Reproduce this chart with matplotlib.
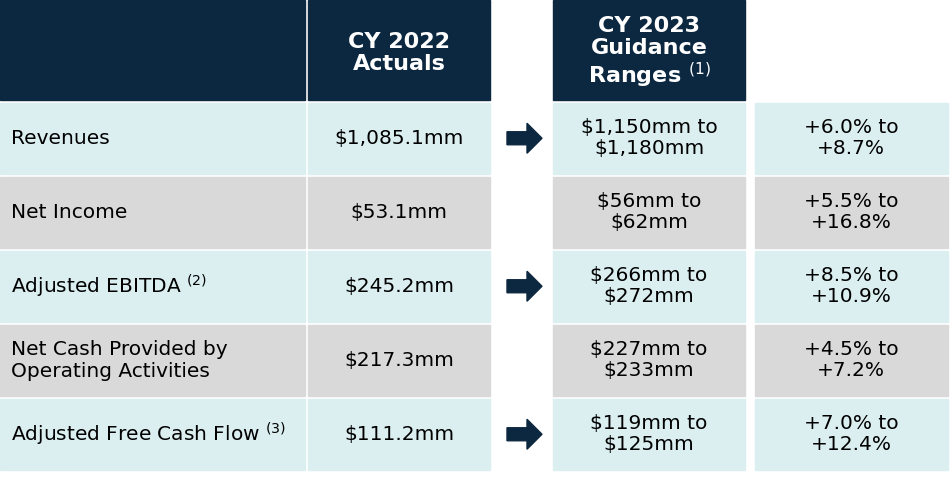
import matplotlib
matplotlib.use("Agg")
import matplotlib.pyplot as plt
from matplotlib.patches import Rectangle, FancyArrow

metrics = ["Revenues", "Net Income", "Adjusted EBITDA", "Net Cash Provided by\nOperating Activities", "Adjusted Free Cash Flow"]
notes = ["", "", "(2)", "", "(3)"]
actuals_2022 = ["$1,085.1mm", "$53.1mm", "$245.2mm", "$217.3mm", "$111.2mm"]
guidance_2023 = ["$1,150mm to\n$1,180mm", "$56mm to\n$62mm", "$266mm to\n$272mm", "$227mm to\n$233mm", "$119mm to\n$125mm"]
growth = ["+6.0% to\n+8.7%", "+5.5% to\n+16.8%", "+8.5% to\n+10.9%", "+4.5% to\n+7.2%", "+7.0% to\n+12.4%"]
arrows = [True, False, True, False, True]

NAVY = "#0c2840"
CYAN = "#dbeff1"
GRAY = "#d9d9d9"
FONT = "DejaVu Sans"

fig = plt.figure(figsize=(9.51, 4.78), dpi=100)
ax = fig.add_axes([0, 0, 1, 1])
ax.set_xlim(0, 951); ax.set_ylim(478, 0); ax.axis("off")

cols = [(0, 305), (308, 490), (553, 745), (755, 948)]
ax.add_patch(Rectangle((0, 0), 305, 100, color=NAVY))
ax.add_patch(Rectangle((308, 0), 182, 100, color=NAVY))
ax.add_patch(Rectangle((553, 0), 192, 100, color=NAVY))
ax.text(399, 53, "CY 2022\nActuals", color="white", fontsize=16, fontweight="bold",
        ha="center", va="center", family=FONT, linespacing=1.15)
ax.text(649, 53, "CY 2023\nGuidance\nRanges $^{(1)}$", color="white", fontsize=16, fontweight="bold",
        ha="center", va="center", family=FONT, linespacing=1.1)

row_top = 103
row_h = 74
for i, m in enumerate(metrics):
    y0 = row_top + i * row_h
    h = row_h - 3.5
    c = CYAN if i % 2 == 0 else GRAY
    for (x0, x1) in cols:
        ax.add_patch(Rectangle((x0, y0), x1 - x0, h, color=c))
    yc = y0 + h / 2
    label = m + (" $^{" + notes[i] + "}$" if notes[i] else "")
    ax.text(11, yc, label, fontsize=14.5, ha="left", va="center", family=FONT, color="black", linespacing=1.2)
    ax.text(399, yc, actuals_2022[i], fontsize=14.5, ha="center", va="center", family=FONT)
    ax.text(649, yc, guidance_2023[i], fontsize=14.5, ha="center", va="center", family=FONT, linespacing=1.15)
    ax.text(851, yc, growth[i], fontsize=14.5, ha="center", va="center", family=FONT, linespacing=1.15)
    if arrows[i]:
        ax.add_patch(FancyArrow(507, yc, 20, 0, width=13, head_width=30, head_length=15,
                                length_includes_head=False, color=NAVY))

fig.savefig("out.png", dpi=100)
